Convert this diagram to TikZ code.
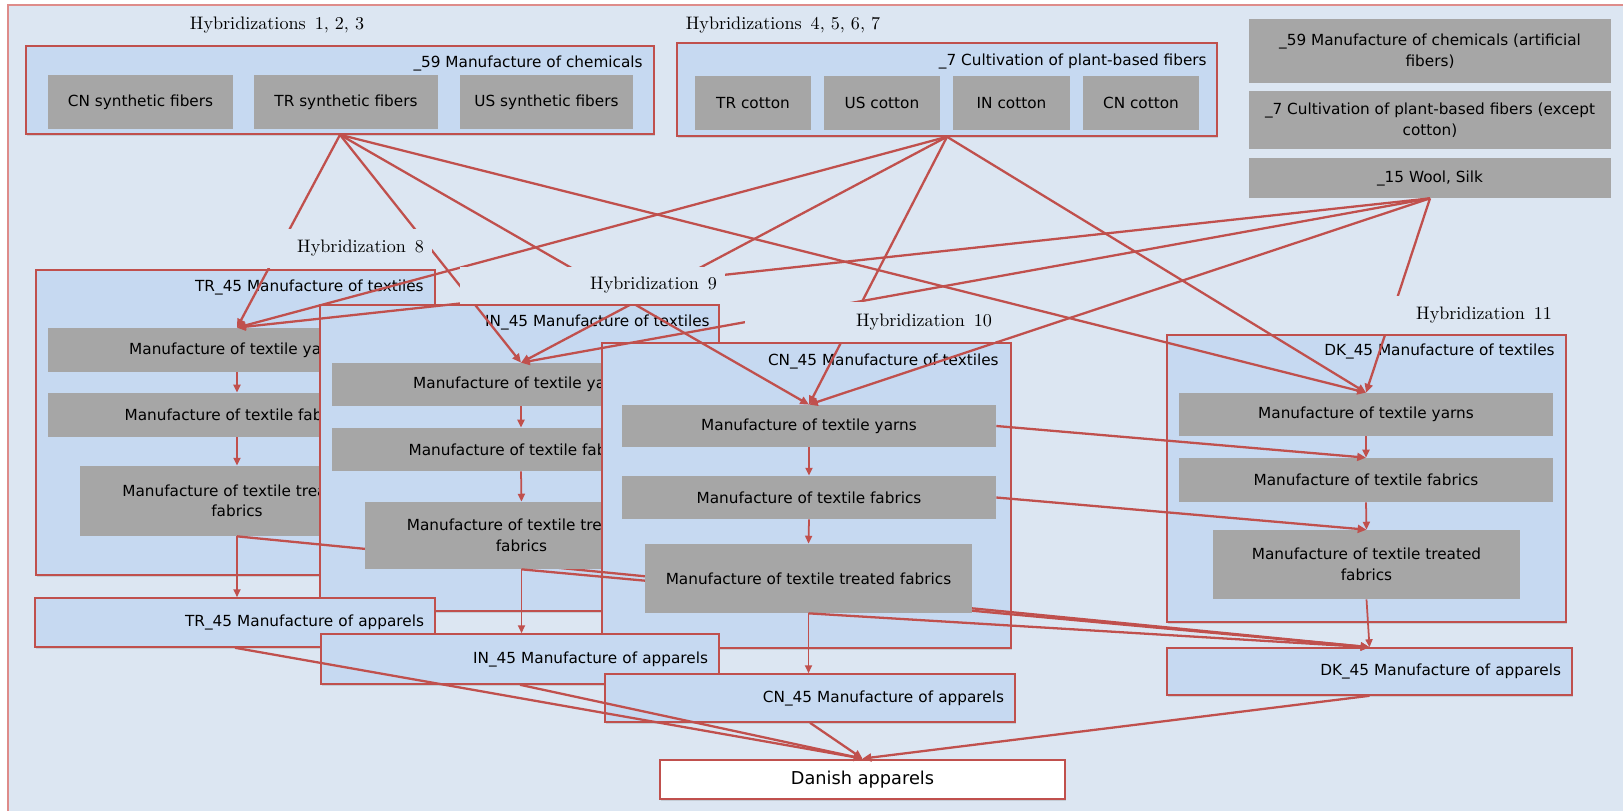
\documentclass[tikz,border=0pt]{standalone}
\usepackage{fontspec}
\setsansfont{DejaVu Sans}
\usepackage{tikz}
\usetikzlibrary{arrows.meta, positioning, shadows}
\definecolor{PanelBg}{RGB}{220,230,242}
\definecolor{GroupBlue}{RGB}{198,217,241}
\definecolor{StepGrey}{RGB}{166,166,166}
\definecolor{LinkRed}{RGB}{192,80,77}
\definecolor{FrameRed}{RGB}{222,140,138}
\newcommand{\boxfont}{\sffamily\fontsize{8.7}{11.7}\selectfont}
\newcommand{\hybfont}{\rmfamily\fontsize{10.3}{12}\selectfont}
\tikzset{
  groupbox/.style={draw=LinkRed, line width=0.9pt, fill=GroupBlue,
    drop shadow={shadow xshift=0.6pt, shadow yshift=-0.9pt, opacity=0.25}},
  stepbox/.style={fill=StepGrey, align=center, font=\boxfont, inner sep=0pt},
  grouptitle/.style={font=\boxfont, inner sep=0pt, anchor=east},
  apparel/.style={groupbox, font=\boxfont, align=right, inner xsep=0.22cm, inner ysep=0pt},
  hyb/.style={font=\hybfont, inner sep=0pt},
  hybmask/.style={hyb, fill=PanelBg, align=right, inner xsep=0.16cm, inner ysep=0pt},
  link/.style={draw=LinkRed, line width=1.3pt, -{Triangle[length=5pt,width=4.5pt]}},
  flow/.style={draw=LinkRed, line width=1pt, -{Triangle[length=4.5pt,width=4pt]}}
}

\begin{document}
\begin{tikzpicture}[x=0.02cm, y=-0.02cm]
\useasboundingbox (0,0) rectangle (1623,811);
\clip (0,0) rectangle (1623,811);
% panel
\draw[FrameRed, fill=PanelBg, line width=0.6pt] (8,5) rectangle (1650,840);

% fibre sources
\node[groupbox, minimum width=12.56cm, minimum height=1.76cm] (chem) at (340,90) {};
\node[grouptitle] (chemTitle) at (643,63) {\_59 Manufacture of chemicals};
\foreach \n/\x/\w/\cc in {cnS/140.5/3.70/CN, trS/346/3.68/TR, usS/546.5/3.46/US}
  \node[stepbox, minimum width=\w cm, minimum height=1.08cm] (\n) at (\x,102) {\cc{} synthetic fibers};

\node[groupbox, minimum width=10.80cm, minimum height=1.86cm] (cotton) at (947,89.5) {};
\node[grouptitle] (cottonTitle) at (1207,61) {\_7 Cultivation of plant-based fibers};
\foreach \n/\x/\cc in {trCt/753/TR, usCt/882/US, inCt/1011.5/IN, cnCt/1141/CN}
  \node[stepbox, minimum width=2.33cm, minimum height=1.08cm] (\n) at (\x,103) {\cc{} cotton};

\node[stepbox, minimum width=7.24cm, minimum height=1.28cm] (art) at (1430,51) {\_59 Manufacture of chemicals (artificial\\fibers)};
\node[stepbox, minimum width=7.24cm, minimum height=1.16cm] (plant) at (1430,120) {\_7 Cultivation of plant-based fibers (except\\cotton)};
\node[stepbox, minimum width=7.24cm, minimum height=0.80cm] (wool) at (1430,178) {\_15 Wool, Silk};

\node[hyb] (hybA) at (277,25) {Hybridizations\enspace 1, 2, 3};
\node[hyb] (hybB) at (783,25) {Hybridizations\enspace 4, 5, 6, 7};

% DK
\node[groupbox, minimum width=7.98cm, minimum height=5.74cm] (dkT) at (1366.5,478.5) {};
\node[grouptitle] (dkTitle) at (1555,351) {DK\_45 Manufacture of textiles};
\node[stepbox, minimum width=7.48cm, minimum height=0.86cm] (dkY) at (1366,414.5) {Manufacture of textile yarns};
\node[stepbox, minimum width=7.48cm, minimum height=0.88cm] (dkF) at (1366,480) {Manufacture of textile fabrics};
\node[stepbox, minimum width=6.14cm, minimum height=1.38cm] (dkC) at (1366.5,564.5) {Manufacture of textile treated\\fabrics};
\node[apparel, text width=7.66cm, minimum height=0.94cm] (dkA) at (1369.5,671.5) {DK\_45 Manufacture of apparels};
\draw[flow] (dkY.south) -- (dkF.north);
\draw[flow] (dkF.south) -- (dkC.north);
\draw[flow] (dkC.south) -- (dkA.north);

% TR
\node[groupbox, minimum width=7.98cm, minimum height=6.10cm] (trT) at (235.5,422.5) {};
\node[grouptitle] (trTitle) at (424,287) {TR\_45 Manufacture of textiles};
\node[stepbox, minimum width=7.56cm, minimum height=0.88cm] (trY) at (237,350) {Manufacture of textile yarns};
\node[stepbox, minimum width=7.56cm, minimum height=0.88cm] (trF) at (237,415) {Manufacture of textile fabrics};
\node[stepbox, minimum width=6.28cm, minimum height=1.40cm] (trC) at (237,501) {Manufacture of textile treated\\fabrics};
\draw[flow] (trY.south) -- (trF.north);
\draw[flow] (trF.south) -- (trC.north);

% IN
\node[groupbox, minimum width=7.98cm, minimum height=6.12cm] (inT) at (519.5,458) {};
\node[grouptitle] (inTitle) at (710,322) {IN\_45 Manufacture of textiles};
\node[apparel, text width=7.56cm, minimum height=0.98cm] (trA) at (235,622.5) {TR\_45 Manufacture of apparels};
\draw[flow] (trC.south) -- (trC.south |- trA.north);
\draw[link] (trC.south) -- (dkA.north);
\node[stepbox, minimum width=7.56cm, minimum height=0.86cm] (inY) at (521,384.5) {Manufacture of textile yarns};
\node[stepbox, minimum width=7.56cm, minimum height=0.86cm] (inF) at (521,449.5) {Manufacture of textile fabrics};
\node[stepbox, minimum width=6.26cm, minimum height=1.34cm] (inC) at (521.5,535.5) {Manufacture of textile treated\\fabrics};
\draw[flow] (inY.south) -- (inF.north);
\draw[flow] (inF.south) -- (inC.north);

% CN
\node[groupbox, minimum width=8.18cm, minimum height=6.10cm] (cnT) at (806.5,495.5) {};
\node[grouptitle] (cnTitle) at (999,361) {CN\_45 Manufacture of textiles};
\node[apparel, text width=7.52cm, minimum height=1.00cm] (inA) at (520,659) {IN\_45 Manufacture of apparels};
\draw[flow] (inC.south) -- (inC.south |- inA.north);
\begin{scope}
  \clip (cnT.north west) rectangle (cnT.south east);
  \draw[link] (trC.south) -- (dkA.north);
\end{scope}
\draw[link] (inC.south) -- (dkA.north);
\node[stepbox, minimum width=7.48cm, minimum height=0.84cm] (cnY) at (809,426) {Manufacture of textile yarns};
\node[stepbox, minimum width=7.48cm, minimum height=0.86cm] (cnF) at (809,497.5) {Manufacture of textile fabrics};
\node[stepbox, minimum width=6.54cm, minimum height=1.38cm] (cnC) at (808.5,578.5) {Manufacture of textile treated fabrics};
\draw[flow] (cnY.south) -- (cnF.north);
\draw[flow] (cnF.south) -- (cnC.north);
\node[apparel, text width=7.76cm, minimum height=0.96cm] (cnA) at (810,698) {CN\_45 Manufacture of apparels};
\draw[flow] (cnC.south) -- (cnC.south |- cnA.north);
\draw[link] (cnC.south) -- (dkA.north);
\draw[link] (cnY.east) -- (dkF.north);
\draw[link] (cnF.east) -- (dkC.north);

% Danish apparels
\node[draw=LinkRed, line width=1.6pt, fill=white, minimum width=8.10cm, minimum height=0.78cm,
  font=\sffamily\fontsize{10.1}{12}\selectfont,
  drop shadow={shadow xshift=0.6pt, shadow yshift=-0.9pt, opacity=0.25}] (dan) at (862.5,779.5) {Danish apparels};
\foreach \a in {trA, inA, cnA, dkA}
  \draw[link] (\a.south) -- (dan.north);

% hybridization links
\foreach \s in {chem, cotton, wool}
  \foreach \d in {trY, inY, cnY, dkY}
    \draw[link] (\s.south) -- (\d.north);

\node[hybmask, text width=3.02cm, minimum height=0.78cm] (hyb8) at (348.5,248.5) {Hybridization\enspace 8};
\node[hybmask, text width=4.98cm, minimum height=0.74cm] (hyb9) at (592.5,285.5) {Hybridization\enspace 9};
\node[hybmask, inner xsep=0.06cm, text width=4.88cm, minimum height=0.80cm] (hyb10) at (870,322) {Hybridization\enspace 10};
\node[hybmask, text width=3.28cm, minimum height=0.76cm] (hyb11) at (1470,315) {Hybridization\enspace 11};
\end{tikzpicture}
\end{document}
